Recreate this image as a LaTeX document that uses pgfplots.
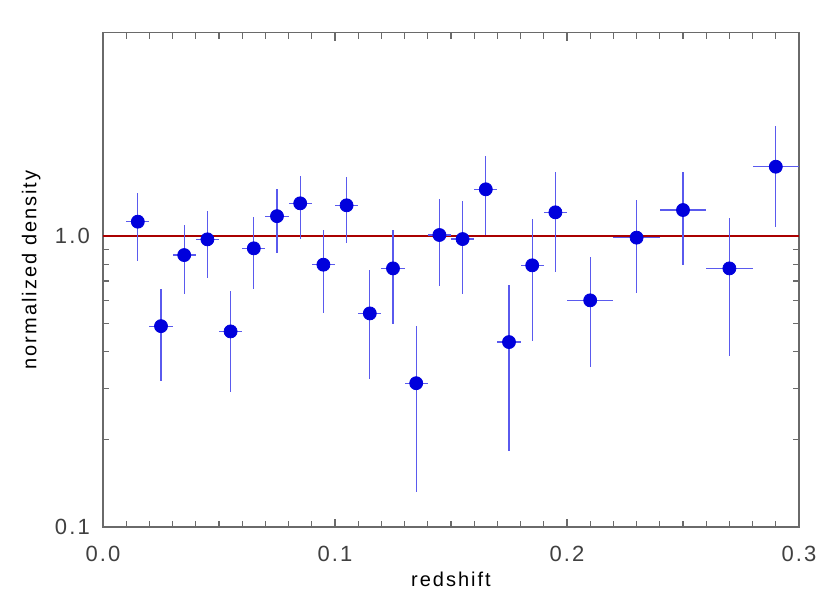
\documentclass[border=0pt]{standalone}
\usepackage{fontspec}
\setmainfont[LetterSpace=10]{Liberation Sans}
\usepackage{pgfplots}
\usepackage{pgfplotstable}
\pgfplotsset{compat=1.18}

\definecolor{axgray}{HTML}{6A6A6A}
\definecolor{txtgray}{HTML}{404040}
\definecolor{ptblue}{RGB}{0,0,220}
\definecolor{errblue}{RGB}{90,90,238}
\definecolor{refred}{RGB}{170,0,0}

% x, y, half bin width, lower and upper end of the error bar
\pgfplotstableread{
x     y      xe     lo     hi
0.015 1.12   0.005  0.82   1.41
0.025 0.49   0.005  0.317  0.66
0.035 0.86   0.005  0.63   1.09
0.045 0.974  0.005  0.72   1.22
0.055 0.47   0.005  0.292  0.647
0.065 0.907  0.005  0.656  1.16
0.075 1.17   0.005  0.872  1.45
0.085 1.295  0.005  0.98   1.61
0.095 0.797  0.005  0.545  1.05
0.105 1.275  0.005  0.944  1.60
0.115 0.542  0.005  0.322  0.762
0.125 0.774  0.005  0.50   1.05
0.135 0.312  0.005  0.132  0.492
0.145 1.008  0.005  0.673  1.34
0.155 0.976  0.005  0.63   1.32
0.165 1.447  0.005  1.008  1.88
0.175 0.432  0.005  0.183  0.68
0.185 0.793  0.005  0.437  1.14
0.195 1.206  0.005  0.75   1.66
0.21  0.601  0.01   0.356  0.845
0.23  0.987  0.01   0.638  1.33
0.25  1.228  0.01   0.795  1.66
0.27  0.774  0.01   0.387  1.156
0.29  1.73   0.01   1.076  2.38
}\density

\begin{document}
\begin{tikzpicture}
\begin{axis}[
    scale only axis,
    width=348pt, height=247.2pt,
    ymode=log,
    xmin=0, xmax=0.3,
    ymin=0.1, ymax=5,
    xtick={0,0.1,0.2,0.3},
    xticklabels={0.0,0.1,0.2,0.3},
    minor x tick num=9,
    ytick={0.1,1},
    yticklabels={0.1,1.0},
    tick align=inside,
    major tick length=4pt,
    minor tick length=3pt,
    axis line style={axgray, line width=0.6pt},
    every tick/.style={axgray, line width=0.6pt},
    every minor tick/.style={axgray, line width=0.6pt},
    /pgf/number format/assume math mode=true,
    tick label style={font=\fontsize{11}{13}\selectfont, text=txtgray},
    xticklabel style={yshift=-6pt},
    yticklabel style={xshift=-3pt},
    label style={font=\fontsize{11}{13}\selectfont, text=txtgray},
    xlabel={redshift},
    ylabel={normalized density},
    every axis x label/.style={at={(axis description cs:0.5,-0.105)}, anchor=center},
    every axis y label/.style={at={(axis description cs:-0.103,0.52)}, rotate=90, anchor=center},
    clip=false,
]
  % reference level
  \addplot[refred, line width=1pt, forget plot] coordinates {(0,1) (0.3,1)};

  % measured densities with bin widths and errors
  \addplot[
      only marks,
      mark=*,
      mark size=3.25pt,
      mark options={draw=ptblue, fill=ptblue},
      error bars/.cd,
      x dir=both, x explicit,
      y dir=both, y explicit,
      error mark=none,
      error bar style={errblue, line width=0.6pt},
  ] table[
      x=x, y=y,
      x error=xe,
      y error plus expr=\thisrow{hi}-\thisrow{y},
      y error minus expr=\thisrow{y}-\thisrow{lo},
  ] {\density};
\end{axis}
\path (-51.5pt,-33pt) rectangle (363.5pt,263.5pt);
\end{tikzpicture}
\end{document}
